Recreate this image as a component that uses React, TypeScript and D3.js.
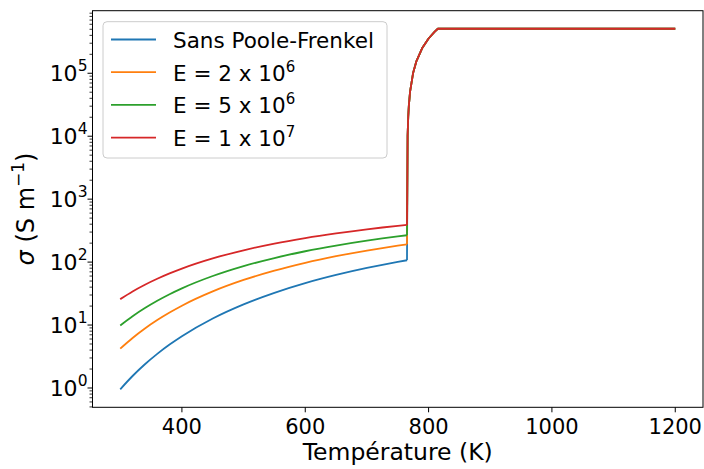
import React from "react";
import * as d3 from "d3";

const seriesNames = ["Sans Poole-Frenkel", "E = 2 x 10", "E = 5 x 10", "E = 1 x 10"];
const seriesExp = ["", "6", "6", "7"];
const colors = ["#1f77b4", "#ff7f0e", "#2ca02c", "#d62728"];

const tempLow = [300, 320, 340, 360, 380, 400, 450, 500, 550, 600, 650, 700, 725, 750, 765];
const sigmaBlue = [0.954, 1.55, 2.38, 3.48, 4.89, 6.64, 12.7, 21.3, 32.5, 46.3, 62.4, 80.7, 90.5, 100.7, 107];
const sigmaOrange = [4.22, 6.24, 8.82, 12.0, 15.8, 20.3, 34.2, 52.0, 73.2, 97.4, 124, 152.6, 167.3, 182.5, 191.7];
const sigmaGreen = [9.84, 13.8, 18.6, 24.3, 30.9, 38.3, 60.1, 86.4, 116, 148.7, 183, 219, 237.6, 256, 267];
const sigmaRed = [25.8, 34.2, 43.7, 54.4, 66.2, 79, 114.6, 154, 197, 241, 286, 332, 354.5, 376.9, 390];

const tempHigh = [766, 767, 768, 770, 775, 780, 790, 800, 810, 815, 1200];
const sigmaHigh = [10200, 20400, 30600, 51000, 102000, 153000, 255000, 357000, 459000, 510000, 510000];

const xTicks = [400, 600, 800, 1000, 1200];
const yTickExps = [0, 1, 2, 3, 4, 5];

const W = 704, H = 469;
const L = 92.5, R = 703, T = 10.7, B = 407.3;

export default function App() {
  const lows = [sigmaBlue, sigmaOrange, sigmaGreen, sigmaRed];
  const lowSeries = lows.map((low) => tempLow.map((t, i) => [t, low[i]] as [number, number]));
  const highSeries = lows.map((low) => [
    [tempLow[tempLow.length - 1], low[low.length - 1]] as [number, number],
    ...tempHigh.map((t, i) => [t, sigmaHigh[i]] as [number, number]),
  ]);
  const all = [...lowSeries.flat(), ...highSeries.flat()];
  const allT = all.map((d) => d[0]);
  const allS = all.map((d) => d[1]);
  const tMin = d3.min(allT)!, tMax = d3.max(allT)!;
  const tm = (tMax - tMin) * 0.05;
  const lMin = Math.log10(d3.min(allS)!), lMax = Math.log10(d3.max(allS)!);
  const lm = (lMax - lMin) * 0.05;
  const x = d3.scaleLinear().domain([tMin - tm, tMax + tm]).range([L, R]);
  const y = d3.scaleLog().domain([Math.pow(10, lMin - lm), Math.pow(10, lMax + lm)]).range([B, T]);
  const smooth = d3.line<[number, number]>().x((d) => x(d[0])).y((d) => y(d[1])).curve(d3.curveMonotoneX);
  const straight = d3.line<[number, number]>().x((d) => x(d[0])).y((d) => y(d[1]));

  const minor: number[] = [];
  for (let e = -1; e <= 6; e++) for (let k = 2; k <= 9; k++) {
    const v = k * Math.pow(10, e);
    const [a, b] = y.domain();
    if (v >= a && v <= b) minor.push(v);
  }

  const font = "DejaVu Sans, sans-serif";
  return (
    <svg width={W} height={H} style={{ position: "absolute", left: 0, top: 0 }} fontFamily={font}>
      <rect x={0} y={0} width={W} height={H} fill="white" />
      <defs>
        <clipPath id="clip"><rect x={L} y={T} width={R - L} height={B - T} /></clipPath>
      </defs>
      <g clipPath="url(#clip)" fill="none" strokeWidth={1.8} strokeLinejoin="round">
        {lowSeries.map((s, i) => (
          <g key={i}>
            <path d={smooth(s) || ""} stroke={colors[i]} />
            <path d={straight(highSeries[i]) || ""} stroke={colors[i]} />
          </g>
        ))}
      </g>
      <rect x={L} y={T} width={R - L} height={B - T} fill="none" stroke="black" strokeWidth={1} />
      {xTicks.map((t) => (
        <g key={t}>
          <line x1={x(t)} x2={x(t)} y1={B} y2={B + 5} stroke="black" strokeWidth={1} />
          <text x={x(t)} y={433.5} textAnchor="middle" fontSize={21}>{t}</text>
        </g>
      ))}
      {minor.map((v, i) => (
        <line key={i} x1={L - 3} x2={L} y1={y(v)} y2={y(v)} stroke="black" strokeWidth={0.8} />
      ))}
      {yTickExps.map((e) => (
        <g key={e}>
          <line x1={L - 5} x2={L} y1={y(Math.pow(10, e))} y2={y(Math.pow(10, e))} stroke="black" strokeWidth={1} />
          <text x={L - 5} y={y(Math.pow(10, e)) + 8} textAnchor="end" fontSize={22}>
            10<tspan dy={-10} fontSize={15.5}>{e}</tspan>
          </text>
        </g>
      ))}
      <text x={(L + R) / 2} y={460} textAnchor="middle" fontSize={23.5}>Température (K)</text>
      <text transform={`translate(34, ${(T + B) / 2}) rotate(-90)`} textAnchor="middle" fontSize={24}>
        <tspan fontStyle="italic">σ</tspan> (S m<tspan dy={-10} fontSize={17}>−1</tspan><tspan dy={10}>)</tspan>
      </text>
      <rect x={103} y={21.7} width={284} height={136.3} rx={4} fill="white" fillOpacity={0.8} stroke="#cccccc" strokeWidth={1} />
      {seriesNames.map((n, i) => {
        const yy = 39.5 + i * 32.7;
        return (
          <g key={n}>
            <line x1={111} x2={156} y1={yy} y2={yy} stroke={colors[i]} strokeWidth={1.8} />
            <text x={173} y={yy + 8.5} fontSize={21.5}>
              {n}
              {seriesExp[i] && <tspan dy={-9} fontSize={15}>{seriesExp[i]}</tspan>}
            </text>
          </g>
        );
      })}
    </svg>
  );
}
